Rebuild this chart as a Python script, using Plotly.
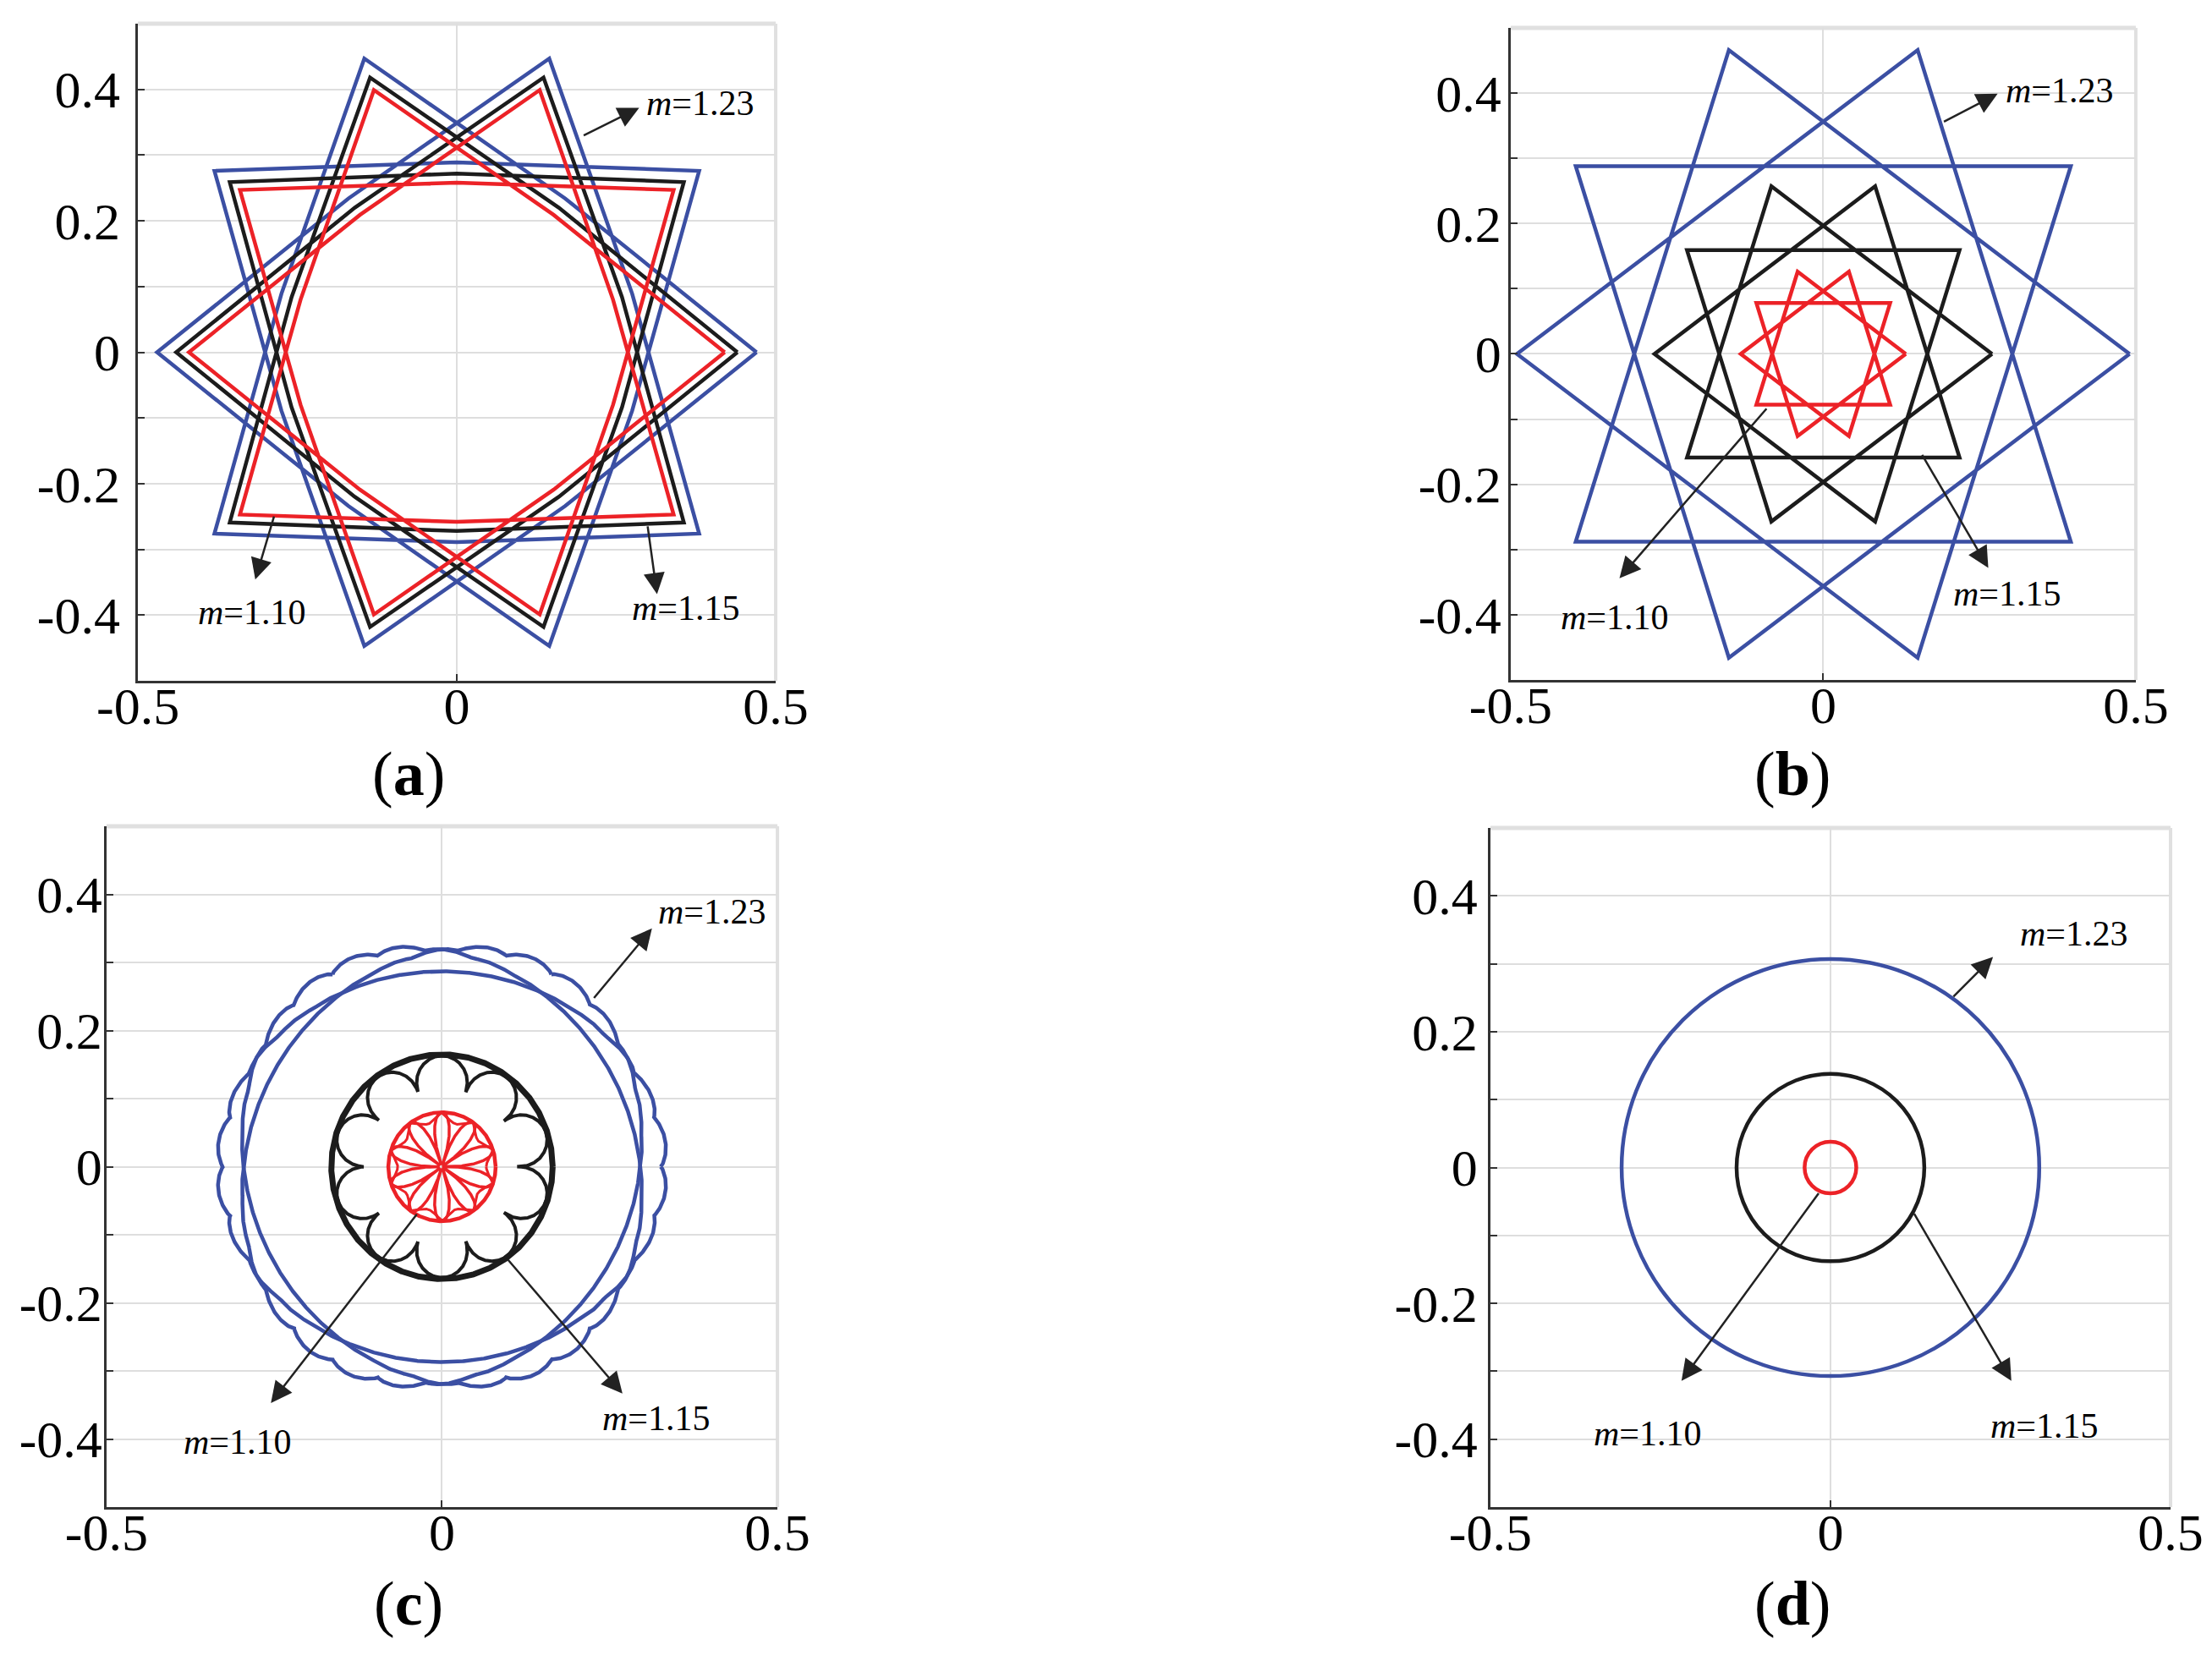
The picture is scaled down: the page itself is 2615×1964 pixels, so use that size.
# four-panel trajectory figure: (a) (b) star paths, (c) rosettes, (d) circles

import numpy as np
import plotly.graph_objects as go

BLUE = "#3b4fa3"
BLACK = "#1c1c1c"
RED = "#ec2227"
SERIF = "Liberation Serif"

M_LABELS = ["<i>m</i>=1.10", "<i>m</i>=1.15", "<i>m</i>=1.23"]

# panel (a): {10/3} star paths, one bowed point between each pair of vertices
A_RED_X = [0.42, 0.152, -0.130, -0.245, -0.340, 0, 0.340, 0.245, 0.130, -0.152, -0.42,
           -0.152, 0.130, 0.245, 0.340, 0, -0.340, -0.245, -0.130, 0.152, 0.42]
A_RED_Y = [0, 0.209, 0.399, 0.080, -0.247, -0.258, -0.247, 0.080, 0.399, 0.209, 0,
           -0.209, -0.399, -0.080, 0.247, 0.258, 0.247, -0.080, -0.399, -0.209, 0]
A_BLACK_X = [0.44, 0.160, -0.136, -0.259, -0.356, 0, 0.356, 0.259, 0.136, -0.160, -0.44,
             -0.160, 0.136, 0.259, 0.356, 0, -0.356, -0.259, -0.136, 0.160, 0.44]
A_BLACK_Y = [0, 0.220, 0.418, 0.084, -0.259, -0.272, -0.259, 0.084, 0.418, 0.220, 0,
             -0.220, -0.418, -0.084, 0.259, 0.272, 0.259, -0.084, -0.418, -0.220, 0]
A_BLUE_X = [0.47, 0.170, -0.145, -0.275, -0.380, 0, 0.380, 0.275, 0.145, -0.170, -0.47,
            -0.170, 0.145, 0.275, 0.380, 0, -0.380, -0.275, -0.145, 0.170, 0.47]
A_BLUE_Y = [0, 0.234, 0.447, 0.089, -0.276, -0.289, -0.276, 0.089, 0.447, 0.234, 0,
            -0.234, -0.447, -0.089, 0.276, 0.289, 0.276, -0.089, -0.447, -0.234, 0]

# panel (b): straight-edged {10/3} stars
B_RED_X = [0.132, -0.041, -0.107, 0.107, 0.041, -0.132, 0.041, 0.107, -0.107, -0.041, 0.132]
B_RED_Y = [0, 0.126, -0.078, -0.078, 0.126, 0, -0.126, 0.078, 0.078, -0.126, 0]
B_BLACK_X = [0.27, -0.083, -0.218, 0.218, 0.083, -0.27, 0.083, 0.218, -0.218, -0.083, 0.27]
B_BLACK_Y = [0, 0.257, -0.159, -0.159, 0.257, 0, -0.257, 0.159, 0.159, -0.257, 0]
B_BLUE_X = [0.49, -0.151, -0.396, 0.396, 0.151, -0.49, 0.151, 0.396, -0.396, -0.151, 0.49]
B_BLUE_Y = [0, 0.466, -0.288, -0.288, 0.466, 0, -0.466, 0.288, 0.288, -0.466, 0]

# panel (c): read-off sizes of the rosette curves
C_BLUE_AXES = [0.326, 0.287]      # semi-major, semi-minor of the precessing loop
C_BLUE_TILTS = [0, 60, 120]       # orientation of each loop, degrees
C_BLACK_RADII = [0.165, 0.163, 0.112]  # circle, lobe tops, cusps
C_RED_RADII = [0.08, 0.066]       # circle, inner ring dip
C_LOBES = 10

# panel (d): circle radii (red, black, blue)
D_RADII = [0.038, 0.138, 0.307]

# annotation positions per panel: label text, arrow tail, arrow head (data units)
TEXT_POS = {
    "a": [(-0.408, -0.396), (0.272, -0.389), (0.295, 0.379)],
    "b": [(-0.423, -0.404), (0.205, -0.368), (0.289, 0.404)],
    "c": [(-0.388, -0.404), (0.237, -0.369), (0.319, 0.375)],
    "d": [(-0.351, -0.392), (0.233, -0.380), (0.276, 0.344)],
}
ARROW_TAIL = {
    "a": [(-0.286, -0.248), (0.299, -0.263), (0.197, 0.329)],
    "b": [(-0.089, -0.082), (0.157, -0.153), (0.191, 0.355)],
    "c": [(-0.036, -0.068), (0.097, -0.135), (0.225, 0.246)],
    "d": [(-0.016, -0.036), (0.122, -0.066), (0.179, 0.250)],
}
ARROW_HEAD = {
    "a": [(-0.316, -0.346), (0.314, -0.368), (0.286, 0.372)],
    "b": [(-0.326, -0.344), (0.264, -0.328), (0.279, 0.399)],
    "c": [(-0.255, -0.347), (0.269, -0.333), (0.313, 0.350)],
    "d": [(-0.219, -0.314), (0.266, -0.314), (0.239, 0.310)],
}

# subplot placement (paper fractions) and y-label gap per panel
DOMAINS = {
    "a": ([0.0593, 0.3476], [0.5942, 0.9898]),
    "b": ([0.6799, 0.9625], [0.5947, 0.9873]),
    "c": ([0.0451, 0.3484], [0.0967, 0.5066]),
    "d": ([0.6707, 0.9782], [0.0967, 0.5056]),
}
Y_STANDOFF = {"a": 6, "b": -4, "c": -10, "d": 0}
PANEL_LABEL_POS = {"a": (0.1815, 0.5381), "b": (0.8071, 0.5381),
                   "c": (0.1815, 0.0386), "d": (0.8071, 0.0386)}


def loop_curve(a, b, tilt, ripple=0.01, waves=14):
    t = np.linspace(0, 2 * np.pi, 1500)
    r = a * b / np.sqrt((b * np.cos(t)) ** 2 + (a * np.sin(t)) ** 2)
    w = ((r - b) / (a - b)) ** 2
    r = r + ripple * w * np.abs(np.sin(waves * t)) ** 0.7
    th = np.radians(tilt)
    x, y = r * np.cos(t), r * np.sin(t)
    return x * np.cos(th) - y * np.sin(th), x * np.sin(th) + y * np.cos(th)


def polar(rho, phi):
    return rho * np.cos(phi), rho * np.sin(phi)


fig = go.Figure()
keys = ["a", "b", "c", "d"]
ax_ids = {k: ("" if i == 0 else str(i + 1)) for i, k in enumerate(keys)}


def add_line(key, x, y, color, width=4.5):
    s = ax_ids[key]
    fig.add_trace(go.Scatter(x=x, y=y, mode="lines", line=dict(color=color, width=width),
                             xaxis="x" + s, yaxis="y" + s, showlegend=False, hoverinfo="skip"))


# (a)
add_line("a", A_BLUE_X, A_BLUE_Y, BLUE)
add_line("a", A_BLACK_X, A_BLACK_Y, BLACK)
add_line("a", A_RED_X, A_RED_Y, RED)

# (b)
add_line("b", B_BLUE_X, B_BLUE_Y, BLUE)
add_line("b", B_BLACK_X, B_BLACK_Y, BLACK)
add_line("b", B_RED_X, B_RED_Y, RED)

# (c)
for tilt in C_BLUE_TILTS:
    bx, by = loop_curve(C_BLUE_AXES[0], C_BLUE_AXES[1], tilt)
    add_line("c", bx, by, BLUE, 4.5)

phi = np.linspace(0, 2 * np.pi, 3000)
half = C_LOBES // 2
add_line("c", *polar(np.full_like(phi, C_BLACK_RADII[0]), phi), BLACK, 7)
lobe = C_BLACK_RADII[2] + (C_BLACK_RADII[1] - C_BLACK_RADII[2]) * np.abs(np.sin(half * phi)) ** 0.45
add_line("c", *polar(lobe, phi), BLACK, 4)

add_line("c", *polar(np.full_like(phi, C_RED_RADII[0]), phi), RED, 4.5)
add_line("c", *polar(C_RED_RADII[0] * np.abs(np.sin(half * phi)) ** 0.6, phi), RED, 3.5)
ring = C_RED_RADII[0] - (C_RED_RADII[0] - C_RED_RADII[1]) * np.abs(np.cos(half * phi))
add_line("c", *polar(ring, phi), RED, 3)

shapes = []
# (d) circles
for r, c in zip(D_RADII, [RED, BLACK, BLUE]):
    shapes.append(dict(type="circle", xref="x4", yref="y4", x0=-r, x1=r, y0=-r, y1=r,
                       line=dict(color=c, width=4.5)))

annotations = []
layout_axes = {}
for key in keys:
    s = ax_ids[key]
    xd, yd = DOMAINS[key]
    layout_axes["xaxis" + s] = dict(
        domain=xd, anchor="y" + s, range=[-0.5, 0.5], automargin=False,
        tickvals=[-0.5, 0, 0.5], ticktext=["-0.5", "0", "0.5"],
        showgrid=True, gridcolor="#dedede", gridwidth=2, zeroline=False,
        showline=True, linecolor="#333333", linewidth=2.5,
        ticks="inside", ticklen=8, tickwidth=2, tickcolor="#333333",
        ticklabelstandoff=-26,
        tickfont=dict(family=SERIF, size=62, color="black"),
    )
    layout_axes["yaxis" + s] = dict(
        domain=yd, anchor="x" + s, range=[-0.5, 0.5], automargin=False,
        tickvals=[-0.4, -0.3, -0.2, -0.1, 0, 0.1, 0.2, 0.3, 0.4],
        ticktext=["-0.4", "", "-0.2", "", "0", "", "0.2", "", "0.4"],
        showgrid=True, gridcolor="#dedede", gridwidth=2, zeroline=False,
        showline=True, linecolor="#333333", linewidth=2.5,
        ticks="inside", ticklen=8, tickwidth=2, tickcolor="#333333",
        ticklabelstandoff=Y_STANDOFF[key],
        tickfont=dict(family=SERIF, size=62, color="black"),
    )
    # light frame on top and right
    shapes.append(dict(type="line", xref="x" + s + " domain", yref="y" + s + " domain",
                       x0=0, x1=1, y0=1, y1=1, line=dict(color="#e0e0e0", width=5), layer="below"))
    shapes.append(dict(type="line", xref="x" + s + " domain", yref="y" + s + " domain",
                       x0=1, x1=1, y0=0, y1=1, line=dict(color="#e0e0e0", width=4), layer="below"))

    for lab, (tx, ty), (ax_, ay_), (hx, hy) in zip(M_LABELS, TEXT_POS[key],
                                                    ARROW_TAIL[key], ARROW_HEAD[key]):
        annotations.append(dict(
            x=hx, y=hy, ax=ax_, ay=ay_, xref="x" + s, yref="y" + s,
            axref="x" + s, ayref="y" + s, text="", showarrow=True,
            arrowhead=2, arrowsize=2, arrowwidth=2.5, arrowcolor="#222222", standoff=0,
        ))
        annotations.append(dict(
            x=tx, y=ty, xref="x" + s, yref="y" + s, text=lab, showarrow=False,
            xanchor="left", yanchor="middle",
            font=dict(family=SERIF, size=42, color="black"),
        ))

    px_, py_ = PANEL_LABEL_POS[key]
    annotations.append(dict(
        x=px_, y=py_, xref="paper", yref="paper", text="(<b>%s</b>)" % key,
        showarrow=False, xanchor="center", yanchor="middle",
        font=dict(family=SERIF, size=74, color="black"),
    ))

fig.update_layout(
    width=2615, height=1964,
    margin=dict(l=0, r=0, t=0, b=0),
    paper_bgcolor="white", plot_bgcolor="white",
    shapes=shapes, annotations=annotations,
    **layout_axes,
)

fig.write_html("out.html")
